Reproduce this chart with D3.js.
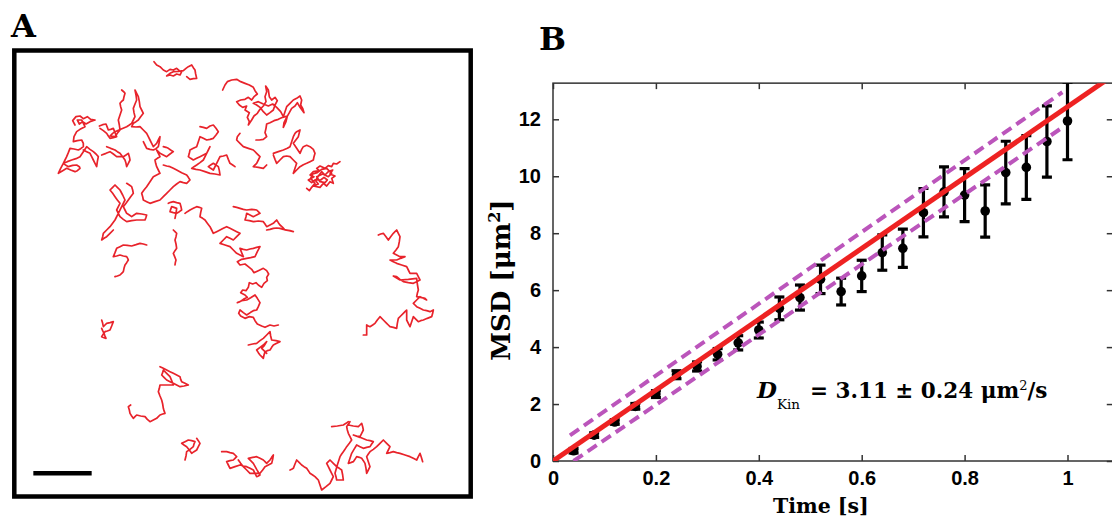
<!DOCTYPE html>
<html><head><meta charset="utf-8">
<script src="https://cdn.jsdelivr.net/npm/d3@7"></script>
<style>body{margin:0;background:#fff}svg{display:block}</style>
</head><body><svg id="c" width="1112" height="519"></svg>
<script>
// ---------- Panel A: single-particle trajectories (camera sub-pixel units) ----------
const fieldX = [42, 1413];
const fieldY = [150, 1491];
const scaleBarUnits = 175;          // ≈ 5 µm
const scaleBarStart = [100, 1420];
const tracks = [
 [[462,185],[470,195],[480,200],[490,210],[500,215],[510,208],[520,210],[530,205],[538,212],[545,215],[540,225],[530,222],[520,228],[510,225],[500,228],[510,220],[520,215],[535,214],[550,212],[558,205],[565,200],[575,195],[580,203],[585,210],[587,222],[590,235],[580,236],[570,238],[560,230]],
 [[668,270],[675,255],[682,245],[695,240],[710,238],[722,245],[735,250],[748,255],[760,262],[765,272],[772,282],[762,290],[755,300],[745,292],[735,298],[722,300],[710,305],[718,315],[728,322],[740,318],[735,330],[748,338],[742,352],[748,365],[745,375],[755,360],[762,348],[772,340],[780,328],[790,318],[798,305],[795,290],[800,275],[797,258],[805,270],[808,290],[815,300],[825,292],[832,302],[825,315],[820,330],[810,338],[800,345],[790,335],[780,322],[770,315],[760,310],[775,305],[790,312],[805,318],[818,312],[830,322],[842,335],[850,350],[855,335],[860,320],[870,310],[880,300],[890,295],[900,288],[905,300],[902,315],[908,325],[912,338],[900,322],[892,308],[885,318],[875,325],[868,338],[860,352],[852,368],[850,382],[858,365],[862,348],[848,352],[835,358],[822,362],[810,368],[800,372],[798,385],[795,398],[800,410],[790,418],[778,420],[768,420]],
 [[720,400],[712,410],[710,420],[720,430],[730,440],[745,445],[760,450],[770,460],[780,470],[775,480],[770,490],[760,500],[775,502],[790,505],[800,495]],
 [[820,460],[835,455],[850,450],[862,445],[870,440],[875,425],[880,410],[885,400],[890,395],[900,390],[895,410],[880,430],[890,445],[900,460],[905,448],[910,440],[920,436],[930,440],[940,448],[945,460],[942,470],[940,480],[930,485],[920,490],[910,494],[900,500],[890,510],[880,520],[885,505],[890,490],[880,480],[870,470],[860,468],[850,470],[840,480],[830,490],[825,478],[820,465]],
 [[1020,485],[1010,492],[1000,490],[995,500],[985,497],[975,505],[960,498],[950,505],[958,512],[940,515],[930,525],[942,530],[925,540],[935,548],[945,540],[955,552],[940,558],[960,562],[970,550],[980,558],[990,545],[1000,550],[995,535],[1005,528],[990,522],[998,510],[985,515],[975,525],[965,515],[955,528],[948,540],[962,540],[972,532],[982,540],[975,548],[960,545],[950,530],[968,522],[985,530],[995,520],[980,505],[965,508],[952,518],[938,522],[932,535],[945,550],[935,562],[928,572],[920,565]],
 [[225,375],[218,362],[228,350],[240,348],[250,356],[262,350],[272,358],[285,360],[270,365],[258,372],[248,365],[238,372],[232,360],[245,360],[255,380],[240,388],[230,395],[222,410],[220,425],[232,422],[245,420],[250,430],[250,440],[242,446],[235,450],[222,447],[210,445],[205,458],[200,470],[195,480],[190,490],[198,496],[205,500],[218,496],[230,495],[238,500],[240,505],[232,512],[225,515],[212,510],[200,505],[188,512],[175,520],[182,505],[190,490],[202,485],[215,480],[228,476],[240,470],[250,455],[260,440],[270,448],[280,455],[288,462],[295,470],[292,485],[290,500],[285,490],[280,480],[275,470],[270,460],[260,455],[250,450]],
 [[298,378],[308,374],[318,372],[322,382],[325,390],[332,388],[340,385],[345,398],[350,410],[340,413],[330,415],[325,408],[320,400],[310,392],[300,385]],
 [[365,270],[372,276],[375,280],[372,290],[370,300],[364,305],[360,310],[362,320],[365,330],[360,345],[355,360],[358,375],[360,390],[352,400],[345,410],[338,409],[330,408],[338,400],[345,395],[362,388],[380,380],[388,375],[395,370],[400,360],[405,350],[402,338],[400,325],[405,312],[410,300],[408,285],[405,270],[410,280],[415,290],[418,305],[420,320],[425,330],[430,340],[422,350],[415,360],[408,365],[400,370],[395,380],[408,381],[420,380],[430,390],[440,400],[445,410],[450,420],[455,430],[460,440],[465,435],[470,430],[475,420],[480,410],[478,425],[475,440],[468,446],[460,450],[450,448],[440,445],[435,435],[430,425]],
 [[320,440],[332,445],[345,450],[352,455],[360,460],[368,470],[375,480],[378,490],[380,500],[385,490],[390,480],[388,470],[385,460],[378,465],[370,470],[360,470],[350,470],[340,462],[330,455],[318,460],[305,465]],
 [[490,440],[498,442],[505,445],[512,450],[520,455],[510,462],[500,470],[490,465],[480,460],[475,455],[470,450],[475,460],[480,470],[472,475],[465,480],[467,490],[470,500],[475,510],[480,520],[470,525],[460,530],[450,545],[440,560],[432,570],[425,580],[428,590],[430,600],[440,605],[450,610],[465,605],[480,600],[490,590],[500,580],[510,570],[520,560],[530,552],[540,545],[550,548],[560,550],[565,545],[570,540],[565,532],[560,525],[545,518],[530,510],[520,505],[510,500],[500,498],[490,495]],
 [[380,550],[388,555],[395,560],[398,570],[400,580],[392,590],[385,600],[378,610],[370,620],[375,630],[380,640],[388,645],[395,650],[402,645],[410,640],[425,642],[440,645],[438,652],[435,660],[422,660],[410,660],[395,662],[380,665],[370,658],[360,650],[355,640],[350,630],[355,620],[360,610],[352,600],[345,590],[338,580],[330,570],[338,562],[345,555],[352,562],[360,570],[368,585],[375,600],[365,620],[355,640],[345,660],[330,680],[320,690],[310,700],[308,710],[305,720],[312,715],[320,710],[330,700],[340,690]],
 [[505,610],[512,607],[520,605],[530,608],[540,610],[543,620],[545,630],[538,635],[530,640],[520,638],[510,635],[512,628],[515,620],[522,622],[530,625],[528,640],[525,655]],
 [[555,640],[562,635],[570,630],[580,625],[590,620],[598,622],[605,625],[602,638],[600,650],[608,655],[615,660],[622,670],[630,680],[635,690],[640,700],[650,695],[660,690],[670,685],[680,680],[690,685],[700,690],[710,695],[720,700],[710,710],[700,720],[690,715],[680,710],[670,720],[660,730],[675,735],[690,740],[700,750],[710,760],[720,765],[730,770],[725,758],[720,745],[730,748],[740,750],[750,747],[760,745],[770,742],[780,740],[772,755],[765,770],[752,773],[740,775],[725,778],[712,785],[720,795],[735,792],[745,800],[755,808],[762,818],[775,812],[790,805],[800,812],[806,822],[800,832],[802,842],[792,850],[785,862],[775,855],[768,848],[758,852],[748,848],[745,862],[738,872],[728,870],[722,878],[735,885],[742,892],[730,898],[720,905],[712,908],[725,902],[740,900],[752,893],[765,885],[772,895],[780,908],[775,920],[770,930],[760,932],[752,937],[740,945],[730,938],[720,930],[716,940],[722,948],[735,955],[748,950],[760,952],[765,962],[772,972],[785,978],[795,982],[810,975],[822,978],[835,975]],
 [[745,1035],[758,1032],[770,1030],[780,1022],[790,1015],[800,1005],[810,995],[812,1008],[815,1020],[828,1022],[840,1025],[830,1030],[820,1035],[815,1042],[810,1050],[802,1052],[795,1055],[792,1065],[790,1075],[785,1070],[780,1065],[775,1058],[770,1050],[780,1042],[790,1035],[795,1030],[800,1025],[792,1038],[785,1045],[792,1052],[800,1060]],
 [[700,620],[710,622],[720,625],[730,628],[740,630],[755,628],[770,630],[775,635],[780,640],[770,645],[760,650],[750,645],[740,640],[738,650],[735,660],[748,662],[760,665],[775,663],[790,665],[795,672],[800,680],[810,675],[820,670],[825,665],[830,660],[835,668],[840,675],[848,682],[855,690],[868,692],[880,695],[870,692],[860,690],[850,688],[840,685],[830,684],[820,685],[810,688],[800,690]],
 [[600,380],[610,382],[620,385],[630,378],[640,375],[648,385],[655,395],[648,405],[640,415],[630,418],[620,420],[610,415],[600,410],[595,425],[590,440],[580,445],[570,450],[568,460],[565,470],[572,475],[580,480],[590,475],[600,470],[610,465],[620,460],[625,450],[630,440],[620,460],[610,480],[600,488],[590,495],[582,500],[575,505],[588,508],[600,510],[615,515],[630,520],[645,522],[660,525],[658,512],[655,500],[648,495],[640,490],[632,495],[625,500],[632,505],[640,510],[650,490],[660,470],[670,468],[680,465],[685,478],[690,490],[698,495],[705,500]],
 [[1135,705],[1142,702],[1150,700],[1158,710],[1165,720],[1172,710],[1180,700],[1185,695],[1190,690],[1195,700],[1200,710],[1198,725],[1195,740],[1188,750],[1180,760],[1190,765],[1200,770],[1208,770],[1215,770],[1202,775],[1190,780],[1180,780],[1170,780],[1180,785],[1190,790],[1205,795],[1220,800],[1225,810],[1230,820],[1240,820],[1250,820],[1255,830],[1260,840],[1250,845],[1240,850],[1225,848],[1210,845],[1200,838],[1190,830],[1180,828],[1190,834],[1200,840],[1225,838],[1250,835],[1252,852],[1255,870],[1252,880],[1250,890],[1262,892],[1275,895],[1280,900],[1270,895],[1260,890],[1250,900],[1240,910],[1245,915],[1250,920],[1260,925],[1270,930],[1280,932],[1290,935],[1300,930],[1298,940],[1295,950],[1282,955],[1270,960],[1262,962],[1255,965],[1248,958],[1240,950],[1235,965],[1230,980],[1225,970],[1220,960],[1220,945],[1220,930],[1215,935],[1210,940],[1202,948],[1195,955],[1192,970],[1190,985],[1180,982],[1170,980],[1165,975],[1160,970],[1150,960],[1140,950],[1132,960],[1125,970],[1118,975],[1110,980],[1105,978],[1100,975],[1100,990],[1100,1005],[1095,1005],[1090,1005]],
 [[440,735],[430,732],[420,730],[408,734],[395,738],[382,736],[370,735],[360,740],[350,745],[345,758],[340,770],[350,768],[360,765],[370,768],[380,770],[383,775],[385,780],[380,788],[375,795],[372,805],[370,815],[365,820],[360,825],[352,828],[345,830]],
 [[520,690],[525,695],[530,700],[528,710],[525,720],[528,732],[530,745],[525,752],[520,760],[524,770],[528,780],[526,788],[525,795]],
 [[305,960],[308,970],[310,980],[315,975],[320,970],[330,968],[340,965],[335,978],[330,990],[322,993],[315,995],[310,1002],[305,1010],[312,1013],[318,1015],[315,1008],[312,1000],[308,992],[305,985]],
 [[480,1100],[490,1105],[500,1110],[510,1115],[520,1120],[530,1125],[540,1130],[542,1138],[545,1145],[555,1150],[565,1155],[552,1158],[540,1160],[530,1155],[520,1150],[510,1145],[500,1140],[492,1132],[485,1125],[488,1118],[490,1110],[500,1120],[510,1130],[515,1142],[520,1155],[500,1155],[480,1155],[478,1165],[475,1175],[480,1188],[485,1200],[488,1212],[490,1225],[492,1232],[495,1240],[488,1242],[480,1245],[475,1250],[470,1255],[460,1260],[450,1265],[442,1258],[435,1250],[422,1248],[410,1245],[405,1250],[400,1255],[395,1248],[390,1240],[388,1230],[385,1220],[392,1215]],
 [[590,1315],[595,1322],[600,1330],[595,1340],[590,1350],[582,1355],[575,1360],[568,1350],[560,1340],[552,1335],[545,1330],[555,1325],[565,1320],[575,1322],[585,1325],[582,1332],[580,1340],[570,1348],[560,1355],[558,1368],[555,1380]],
 [[665,1355],[672,1355],[680,1355],[690,1358],[700,1360],[705,1365],[710,1370],[705,1375],[700,1380],[690,1382],[680,1385],[685,1395],[690,1405],[705,1400],[720,1395],[730,1398],[740,1400],[750,1405],[760,1410],[765,1420],[770,1430],[775,1428],[780,1425],[770,1408],[760,1390],[752,1382],[745,1375],[758,1372],[770,1370],[780,1375],[790,1380],[795,1385],[800,1390],[805,1385],[810,1380],[815,1372],[820,1365],[818,1378],[815,1390],[805,1395],[795,1400],[788,1410],[780,1420],[765,1420],[750,1420],[740,1410],[730,1400],[722,1390],[715,1380]],
 [[870,1410],[875,1408],[880,1405],[885,1392],[890,1380],[898,1388],[905,1395],[912,1400],[920,1405],[925,1412],[930,1420],[938,1425],[945,1430],[950,1435],[955,1440],[960,1455],[965,1470],[978,1460],[990,1450],[995,1440],[1000,1430],[995,1420],[990,1410],[985,1400],[980,1390],[985,1385],[990,1380],[1000,1390],[1010,1400],[1018,1405],[1025,1410],[1028,1425],[1030,1440],[1020,1440],[1010,1440],[1008,1430],[1005,1420],[1012,1395],[1020,1370],[1025,1362],[1030,1355],[1035,1348],[1040,1340],[1048,1330],[1055,1320],[1050,1310],[1045,1300],[1042,1290],[1040,1280],[1045,1272],[1050,1265],[1047,1270],[1045,1275],[1060,1278],[1075,1280],[1080,1275],[1085,1270],[1088,1280],[1090,1290],[1085,1300],[1080,1310],[1070,1308],[1060,1305],[1080,1312],[1100,1320],[1110,1322],[1120,1325],[1115,1332],[1110,1340],[1100,1342],[1090,1345],[1080,1340],[1070,1335],[1062,1348],[1055,1360],[1050,1375],[1045,1390],[1052,1388],[1060,1385],[1065,1378],[1070,1370],[1078,1372],[1085,1375],[1090,1382],[1095,1390],[1098,1405],[1100,1420],[1105,1410],[1110,1400],[1105,1385],[1100,1370],[1105,1362],[1110,1355],[1120,1348],[1130,1340],[1140,1330],[1150,1320],[1160,1330],[1170,1340],[1165,1350],[1160,1360],[1170,1358],[1180,1355],[1190,1358],[1200,1360],[1215,1365],[1230,1370],[1240,1375],[1250,1380],[1255,1370],[1260,1360],[1264,1372],[1268,1385]],
 [[995,1280],[1012,1278],[1030,1275],[1038,1270],[1045,1265]]
];

// ---------- Panel B: MSD vs time ----------
const times  = [0.04,0.08,0.12,0.16,0.20,0.24,0.28,0.32,0.36,0.40,0.44,0.48,0.52,0.56,0.60,0.64,0.68,0.72,0.76,0.80,0.84,0.88,0.92,0.96,1.00];
const msd    = [0.36,0.91,1.37,1.92,2.35,3.03,3.32,3.75,4.15,4.60,5.36,5.74,6.38,5.95,6.50,7.32,7.47,8.72,9.45,9.34,8.78,10.13,10.31,11.22,11.94];
const msdErr = [0.08,0.08,0.08,0.10,0.12,0.14,0.16,0.20,0.25,0.28,0.40,0.44,0.50,0.47,0.55,0.62,0.67,0.85,0.88,0.93,0.92,1.10,1.12,1.25,1.36];
const Dkin = 3.11, DkinErr = 0.24;
const fitT = [0, 1.12];
const bandUpper = [[0.033,0.90],[0.99,12.95]];
const bandLower = [[0.040,0.00],[0.985,11.65]];
const xTicks = [0,0.2,0.4,0.6,0.8,1];
const yTicks = [0,2,4,6,8,10,12];
const xDomain = [0, 1.088];
const yDomain = [0, 13.27];

const svg = d3.select('#c');
const serif = "'DejaVu Serif', serif";
const sans = "'Liberation Sans', Arial, sans-serif";

// ----- Panel A drawing -----
const xA = d3.scaleLinear().domain(fieldX).range([14, 471]);
const yA = d3.scaleLinear().domain(fieldY).range([50, 497]);
const gA = svg.append('g');
const lineA = d3.line().x(d => xA(d[0])).y(d => yA(d[1]));
gA.selectAll('path.trk').data(tracks).join('path')
  .attr('d', lineA).attr('fill', 'none').attr('stroke', '#e8232b')
  .attr('stroke-width', 1.7).attr('stroke-linejoin', 'round').attr('stroke-linecap','round');
gA.append('rect').attr('x', xA(fieldX[0]) + 0.3).attr('y', yA(fieldY[0]) + 0.5)
  .attr('width', xA(fieldX[1]) - xA(fieldX[0]) - 0.6).attr('height', yA(fieldY[1]) - yA(fieldY[0]) - 1)
  .attr('fill', 'none').attr('stroke', '#000').attr('stroke-width', 4.5);
gA.append('line')
  .attr('x1', xA(scaleBarStart[0])).attr('x2', xA(scaleBarStart[0] + scaleBarUnits))
  .attr('y1', yA(scaleBarStart[1])).attr('y2', yA(scaleBarStart[1]))
  .attr('stroke', '#000').attr('stroke-width', 4.5);
svg.append('text').attr('x', 11).attr('y', 37).text('A')
  .attr('font-family', serif).attr('font-weight', 'bold').attr('font-size', 32);

// ----- Panel B drawing -----
const xB = d3.scaleLinear().domain([0, 1]).range([553, 1067.5]);
const yB = d3.scaleLinear().domain([0, 12]).range([461, 119.3]);
const L = xB(xDomain[0]), R = xB(xDomain[1]), T = yB(yDomain[1]), Bt = yB(yDomain[0]);
svg.append('text').attr('x', 539).attr('y', 50).text('B')
  .attr('font-family', serif).attr('font-weight', 'bold').attr('font-size', 32);

const gB = svg.append('g');
svg.append('clipPath').attr('id', 'clipB').append('rect')
  .attr('x', L).attr('y', T).attr('width', R - L).attr('height', Bt - T);

const axisCol = '#333';
const axB = d3.axisBottom(xB).tickValues(xTicks).tickSize(-6).tickPadding(10).tickFormat(d3.format('~g'));
const axT = d3.axisTop(xB).tickValues(xTicks).tickSize(-6).tickFormat('');
const axL = d3.axisLeft(yB).tickValues(yTicks).tickSize(-6).tickPadding(12).tickFormat(d3.format('d'));
const axR = d3.axisRight(yB).tickValues(yTicks).tickSize(-6).tickFormat('');
function styleAx(g){ g.select('.domain').remove(); g.selectAll('line').attr('stroke', axisCol).attr('stroke-width', 1.5);
  g.selectAll('text').attr('font-family', sans).attr('font-weight','bold').attr('font-size', 20).attr('fill','#000'); }
gB.append('g').attr('transform', `translate(0,${Bt})`).call(axB).call(styleAx);
gB.append('g').attr('transform', `translate(0,${T})`).call(axT).call(styleAx);
gB.append('g').attr('transform', `translate(${L},0)`).call(axL).call(styleAx);
gB.append('g').attr('transform', `translate(${R},0)`).call(axR).call(styleAx);
gB.append('rect').attr('x', L).attr('y', T).attr('width', R - L).attr('height', Bt - T)
  .attr('fill','none').attr('stroke', axisCol).attr('stroke-width', 1.5);

const dG = gB.append('g').attr('clip-path', 'url(#clipB)');
const pts = times.map((t, i) => ({t, m: msd[i], e: msdErr[i]}));
const eb = dG.selectAll('g.eb').data(pts).join('g');
eb.append('line').attr('x1', d => xB(d.t)).attr('x2', d => xB(d.t))
  .attr('y1', d => yB(d.m - d.e)).attr('y2', d => yB(d.m + d.e)).attr('stroke','#000').attr('stroke-width', 3.2);
[-1, 1].forEach(s => eb.append('line')
  .attr('x1', d => xB(d.t) - 5).attr('x2', d => xB(d.t) + 5)
  .attr('y1', d => yB(d.m + s * d.e)).attr('y2', d => yB(d.m + s * d.e))
  .attr('stroke','#000').attr('stroke-width', 3.2));
eb.append('circle').attr('cx', d => xB(d.t)).attr('cy', d => yB(d.m)).attr('r', 4.8).attr('fill', '#000');

const lineB = d3.line().x(d => xB(d[0])).y(d => yB(d[1]));
[bandUpper, bandLower].forEach(b => dG.append('path').attr('d', lineB(b)).attr('fill','none')
  .attr('stroke', '#bb55bb').attr('stroke-width', 4).attr('stroke-dasharray', '11,6'));
dG.append('path').attr('d', lineB(fitT.map(t => [t, 4 * Dkin * t]))).attr('fill','none')
  .attr('stroke', '#ee2222').attr('stroke-width', 5);

svg.append('text').attr('transform', `translate(510,${(T + Bt) / 2 + 8}) rotate(-90)`)
  .attr('text-anchor','middle').attr('font-family', serif).attr('font-weight','bold').attr('font-size', 26)
  .call(t => { t.append('tspan').text('MSD [μm'); t.append('tspan').attr('dy', -10).attr('font-size', 16).text('2');
               t.append('tspan').attr('dy', 10).text(']'); });
svg.append('text').attr('x', (L + R) / 2 - 12).attr('y', 513).attr('text-anchor','middle')
  .attr('font-family', serif).attr('font-weight','bold').attr('font-size', 20.5).text('Time [s]');

const ann = svg.append('text').attr('x', 757).attr('y', 398).attr('font-family', serif).attr('font-weight','bold').attr('font-size', 21.5);
ann.append('tspan').attr('font-style','italic').attr('font-size', 23).text('D');
ann.append('tspan').attr('dy', 11).attr('font-size', 13.5).attr('font-weight','normal').text('Kin');
ann.append('tspan').attr('x', 810).attr('dy', -11).text(`= ${Dkin.toFixed(2)} ± ${DkinErr.toFixed(2)} μm`);
ann.append('tspan').attr('dy', -8).attr('font-size', 13).attr('font-weight','normal').text('2');
ann.append('tspan').attr('dy', 8).text('/s');
</script></body></html>
